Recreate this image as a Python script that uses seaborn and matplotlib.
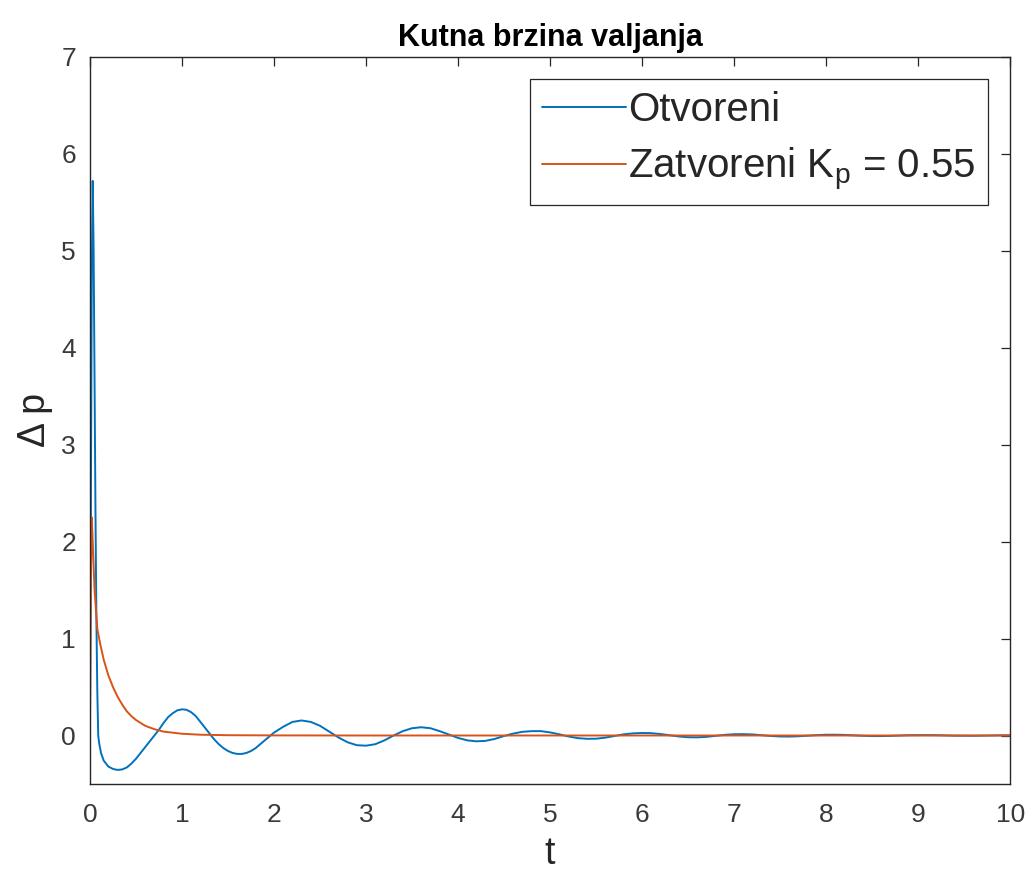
import pandas as pd
import matplotlib
matplotlib.use("Agg")
import matplotlib.pyplot as plt
import seaborn as sns

# open loop response
t_open = [0.00, 0.01, 0.02, 0.03, 0.04, 0.05, 0.06, 0.07, 0.08, 0.09,
          0.10, 0.12, 0.15, 0.20, 0.25, 0.30, 0.35, 0.40, 0.45, 0.50,
          0.55, 0.60, 0.65, 0.70, 0.75, 0.80, 0.85, 0.90, 0.95, 1.00,
          1.05, 1.10, 1.15, 1.20, 1.25, 1.30, 1.35, 1.40, 1.45, 1.50,
          1.55, 1.60, 1.65, 1.70, 1.75, 1.80, 1.85, 1.90, 1.95, 2.00,
          2.10, 2.20, 2.30, 2.40, 2.50, 2.60, 2.70, 2.80, 2.90, 3.00,
          3.10, 3.20, 3.30, 3.40, 3.50, 3.60, 3.70, 3.80, 3.90, 4.00,
          4.10, 4.20, 4.30, 4.40, 4.50, 4.60, 4.70, 4.80, 4.90, 5.00,
          5.10, 5.20, 5.30, 5.40, 5.50, 5.60, 5.70, 5.80, 5.90, 6.00,
          6.10, 6.20, 6.30, 6.40, 6.50, 6.60, 6.70, 6.80, 6.90, 7.00,
          7.10, 7.20, 7.30, 7.40, 7.50, 7.60, 7.70, 7.80, 7.90, 8.00,
          8.10, 8.20, 8.30, 8.40, 8.50, 8.60, 8.70, 8.80, 8.90, 9.00,
          9.10, 9.20, 9.30, 9.40, 9.50, 9.60, 9.70, 9.80, 9.90, 10.0]
p_open = [0.0, 2.5, 4.8, 5.72, 5.0, 3.6, 2.3, 1.2, 0.45, 0.0,
          -0.08, -0.18, -0.26, -0.32, -0.345, -0.355, -0.35, -0.33, -0.29, -0.24,
          -0.18, -0.12, -0.06, 0.0, 0.06, 0.13, 0.19, 0.23, 0.26, 0.27,
          0.265, 0.24, 0.20, 0.14, 0.08, 0.02, -0.04, -0.09, -0.13, -0.16,
          -0.18, -0.19, -0.19, -0.18, -0.16, -0.13, -0.09, -0.05, -0.01, 0.03,
          0.09, 0.14, 0.155, 0.14, 0.10, 0.04, -0.02, -0.07, -0.10, -0.105,
          -0.09, -0.05, 0.0, 0.045, 0.075, 0.085, 0.075, 0.045, 0.01, -0.025,
          -0.05, -0.06, -0.055, -0.035, -0.005, 0.02, 0.038, 0.045, 0.045, 0.032,
          0.012, -0.01, -0.027, -0.034, -0.033, -0.022, -0.005, 0.012, 0.022, 0.026,
          0.024, 0.015, 0.002, -0.01, -0.018, -0.019, -0.014, -0.004, 0.007, 0.013,
          0.014, 0.011, 0.003, -0.005, -0.01, -0.011, -0.008, -0.002, 0.004, 0.008,
          0.008, 0.006, 0.001, -0.003, -0.006, -0.006, -0.004, 0.0, 0.003, 0.004,
          0.004, 0.003, 0.0, -0.002, -0.003, -0.003, -0.002, 0.0, 0.002, 0.002]

# closed loop, Kp = 0.55
t_closed = [0.00, 0.01, 0.02, 0.03, 0.05, 0.08, 0.11, 0.15, 0.20, 0.25,
            0.30, 0.35, 0.40, 0.45, 0.50, 0.60, 0.70, 0.80, 1.00, 1.20,
            1.50, 2.00, 3.00, 10.0]
p_closed = [0.0, 1.6, 2.25, 2.0, 1.5, 1.1, 0.95, 0.78, 0.62, 0.50,
            0.40, 0.32, 0.25, 0.20, 0.16, 0.10, 0.065, 0.04, 0.018, 0.008,
            0.003, 0.001, 0.0, 0.0]

x_ticks = [0, 1, 2, 3, 4, 5, 6, 7, 8, 9, 10]
y_ticks = [0, 1, 2, 3, 4, 5, 6, 7]

df_open = pd.DataFrame({"t": t_open, "p": p_open})
df_closed = pd.DataFrame({"t": t_closed, "p": p_closed})

sns.set_theme(style="white")
plt.rcParams['font.family'] = ['Liberation Sans', 'DejaVu Sans']
plt.rcParams['mathtext.default'] = 'regular'

fig, ax = plt.subplots(figsize=(10.34, 8.74), dpi=100)
plt.subplots_adjust(left=0.087, right=0.977, bottom=0.103, top=0.935)

sns.lineplot(x="t", y="p", data=df_open, color="#0072BD", lw=1.4,
             label="Otvoreni", ax=ax, sort=False)
sns.lineplot(x="t", y="p", data=df_closed, color="#D95319", lw=1.4,
             label="Zatvoreni K$_p$ = 0.55", ax=ax, sort=False)

ax.set_xlim(0, 10)
ax.set_ylim(-0.5, 7)
ax.set_xticks(x_ticks)
ax.set_yticks(y_ticks)

for s in ax.spines.values():
    s.set_color("#262626")
    s.set_linewidth(1.0)
ax.tick_params(direction="in", length=6.5, width=0.9, colors="#262626",
               top=True, right=True, labelsize=19)
ax.tick_params(axis="both", labelcolor="#3a3a3a")
ax.tick_params(axis="x", pad=14)
ax.tick_params(axis="y", pad=10)

ax.set_xlabel("t", fontsize=27, color="#262626", labelpad=6)
ax.set_ylabel("Δ p", fontsize=27, color="#262626", labelpad=6)
ax.set_title("Kutna brzina valjanja", fontsize=22, fontweight="bold",
             color="black", pad=8)

leg = ax.legend(loc="upper right", fontsize=29, frameon=True, fancybox=False,
                framealpha=1, edgecolor="#262626", handlelength=2.1,
                handletextpad=0.05, borderaxespad=0.55, borderpad=0.3,
                labelspacing=0.42)
leg.get_frame().set_linewidth(0.9)

plt.savefig("out.png")
plt.close()
